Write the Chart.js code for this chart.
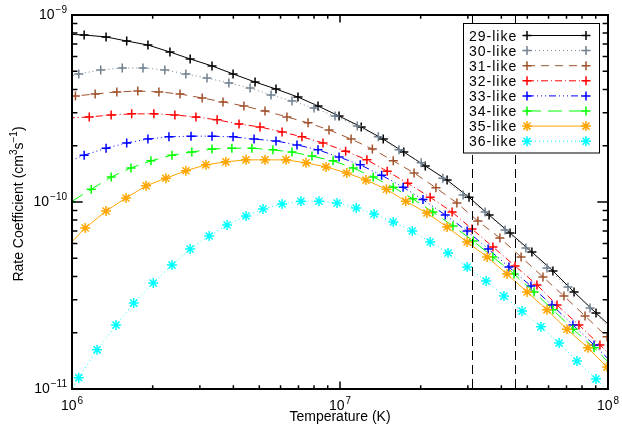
<!DOCTYPE html>
<html>
<head>
<meta charset="utf-8">
<title>Rate coefficients vs temperature</title>
<script src="https://cdn.jsdelivr.net/npm/chart.js"></script>
<style>
  html, body { margin: 0; padding: 0; background: #fff; }
  canvas { display: block; }
</style>
</head>
<body>
<canvas id="chart" width="622" height="433"></canvas>
<script>
// --- Data (T in K, rate coefficient in cm^3 s^-1) ---
// first and last points of each series sit just outside the axes, the curves run into the frame
const temps29 = [9.23e5, 1.11e6, 1.34e6, 1.60e6, 1.92e6, 2.32e6, 2.76e6, 3.33e6, 3.99e6, 4.82e6, 5.77e6, 6.97e6, 8.28e6, 9.92e6, 1.20e7, 1.45e7, 1.73e7, 2.08e7, 2.51e7, 3.03e7, 3.60e7, 4.31e7, 5.20e7, 6.23e7, 7.47e7, 9.02e7, 1.084e8];
const rate29  = [7.91e-10, 7.82e-10, 7.63e-10, 7.26e-10, 6.91e-10, 6.34e-10, 5.82e-10, 5.34e-10, 4.84e-10, 4.38e-10, 4.02e-10, 3.64e-10, 3.26e-10, 2.88e-10, 2.52e-10, 2.17e-10, 1.85e-10, 1.56e-10, 1.31e-10, 1.06e-10, 8.52e-11, 6.83e-11, 5.40e-11, 4.28e-11, 3.30e-11, 2.55e-11, 2.00e-11];

const temps30 = [8.84e5, 1.06e6, 1.28e6, 1.54e6, 1.84e6, 2.22e6, 2.66e6, 3.19e6, 3.85e6, 4.62e6, 5.53e6, 6.62e6, 8.00e6, 9.58e6, 1.16e7, 1.39e7, 1.66e7, 2.01e7, 2.42e7, 2.88e7, 3.48e7, 4.13e7, 4.94e7, 5.92e7, 7.09e7, 8.57e7, 1.029e8];
const rate30  = [4.49e-10, 4.84e-10, 5.08e-10, 5.21e-10, 5.21e-10, 5.08e-10, 4.84e-10, 4.60e-10, 4.33e-10, 4.07e-10, 3.73e-10, 3.47e-10, 3.18e-10, 2.88e-10, 2.55e-10, 2.23e-10, 1.90e-10, 1.62e-10, 1.34e-10, 1.09e-10, 8.84e-11, 7.08e-11, 5.68e-11, 4.44e-11, 3.51e-11, 2.71e-11, 2.07e-11];

const temps31 = [8.55e5, 1.03e6, 1.22e6, 1.47e6, 1.76e6, 2.11e6, 2.53e6, 3.06e6, 3.66e6, 4.38e6, 5.25e6, 6.34e6, 7.60e6, 9.10e6, 1.10e7, 1.32e7, 1.58e7, 1.89e7, 2.28e7, 2.73e7, 3.27e7, 3.95e7, 4.74e7, 5.72e7, 6.85e7, 8.21e7, 9.92e7, 1.19e8];
const rate31  = [3.60e-10, 3.69e-10, 3.78e-10, 3.88e-10, 3.92e-10, 3.88e-10, 3.78e-10, 3.60e-10, 3.43e-10, 3.26e-10, 3.07e-10, 2.85e-10, 2.65e-10, 2.43e-10, 2.17e-10, 1.92e-10, 1.66e-10, 1.43e-10, 1.19e-10, 9.88e-11, 7.91e-11, 6.42e-11, 5.08e-11, 3.97e-11, 3.14e-11, 2.46e-11, 1.90e-11, 1.47e-11];

const temps32 = [9.64e5, 1.16e6, 1.40e6, 1.67e6, 2.02e6, 2.42e6, 2.90e6, 3.48e6, 4.20e6, 5.03e6, 6.08e6, 7.21e6, 8.64e6, 1.05e7, 1.26e7, 1.50e7, 1.79e7, 2.17e7, 2.62e7, 3.11e7, 3.72e7, 4.50e7, 5.43e7, 6.45e7, 7.79e7, 9.33e7, 1.12e8];
const rate32  = [2.81e-10, 2.85e-10, 2.92e-10, 2.96e-10, 2.96e-10, 2.92e-10, 2.85e-10, 2.75e-10, 2.61e-10, 2.52e-10, 2.37e-10, 2.23e-10, 2.07e-10, 1.87e-10, 1.68e-10, 1.46e-10, 1.26e-10, 1.06e-10, 8.84e-11, 7.17e-11, 5.75e-11, 4.55e-11, 3.60e-11, 2.81e-11, 2.20e-11, 1.72e-11, 1.34e-11];

const temps33 = [9.23e5, 1.11e6, 1.34e6, 1.60e6, 1.92e6, 2.30e6, 2.78e6, 3.33e6, 3.99e6, 4.78e6, 5.77e6, 6.91e6, 8.28e6, 9.92e6, 1.19e7, 1.43e7, 1.72e7, 2.04e7, 2.47e7, 2.98e7, 3.57e7, 4.27e7, 5.16e7, 6.18e7, 7.40e7, 8.87e7, 1.065e8];
const rate33  = [1.60e-10, 1.78e-10, 1.94e-10, 2.07e-10, 2.17e-10, 2.23e-10, 2.25e-10, 2.25e-10, 2.23e-10, 2.17e-10, 2.12e-10, 2.02e-10, 1.90e-10, 1.74e-10, 1.58e-10, 1.39e-10, 1.20e-10, 1.03e-10, 8.52e-11, 7.00e-11, 5.61e-11, 4.49e-11, 3.55e-11, 2.81e-11, 2.20e-11, 1.72e-11, 1.33e-11];

const temps34 = [9.91e5, 1.18e6, 1.40e6, 1.66e6, 1.97e6, 2.36e6, 2.80e6, 3.33e6, 3.95e6, 4.69e6, 5.62e6, 6.62e6, 7.86e6, 9.42e6, 1.12e7, 1.33e7, 1.58e7, 1.87e7, 2.22e7, 2.64e7, 3.14e7, 3.72e7, 4.46e7, 5.30e7, 6.23e7, 7.40e7, 8.87e7, 1.053e8];
const rate34  = [1.00e-10, 1.17e-10, 1.36e-10, 1.52e-10, 1.66e-10, 1.78e-10, 1.85e-10, 1.92e-10, 1.94e-10, 1.94e-10, 1.90e-10, 1.85e-10, 1.76e-10, 1.66e-10, 1.52e-10, 1.36e-10, 1.20e-10, 1.04e-10, 8.84e-11, 7.44e-11, 6.19e-11, 5.08e-11, 4.12e-11, 3.30e-11, 2.65e-11, 2.09e-11, 1.66e-11, 1.30e-11];

const temps35 = [9.42e5, 1.12e6, 1.34e6, 1.59e6, 1.89e6, 2.24e6, 2.66e6, 3.16e6, 3.75e6, 4.46e6, 5.25e6, 6.29e6, 7.47e6, 8.87e6, 1.06e7, 1.25e7, 1.49e7, 1.76e7, 2.11e7, 2.51e7, 2.98e7, 3.54e7, 4.20e7, 4.99e7, 5.92e7, 7.03e7, 8.42e7, 9.92e7, 1.177e8];
const rate35  = [5.61e-11, 7.26e-11, 8.95e-11, 1.05e-10, 1.22e-10, 1.34e-10, 1.47e-10, 1.58e-10, 1.64e-10, 1.68e-10, 1.68e-10, 1.68e-10, 1.62e-10, 1.54e-10, 1.43e-10, 1.31e-10, 1.17e-10, 1.01e-10, 8.73e-11, 7.35e-11, 6.11e-11, 5.08e-11, 4.12e-11, 3.30e-11, 2.65e-11, 2.09e-11, 1.66e-11, 1.31e-11, 1.04e-11];

const temps36 = [9.06e5, 1.06e6, 1.24e6, 1.46e6, 1.70e6, 2.01e6, 2.36e6, 2.76e6, 3.25e6, 3.79e6, 4.46e6, 5.16e6, 6.08e6, 7.15e6, 8.35e6, 9.75e6, 1.15e7, 1.34e7, 1.58e7, 1.86e7, 2.17e7, 2.53e7, 2.98e7, 3.51e7, 4.09e7, 4.78e7, 5.62e7, 6.57e7, 7.66e7, 9.02e7, 1.057e8];
const rate36  = [7.82e-12, 1.15e-11, 1.62e-11, 2.20e-11, 2.88e-11, 3.69e-11, 4.60e-11, 5.61e-11, 6.58e-11, 7.53e-11, 8.42e-11, 9.17e-11, 9.76e-11, 1.01e-10, 1.01e-10, 9.88e-11, 9.29e-11, 8.63e-11, 7.82e-11, 7.00e-11, 6.11e-11, 5.34e-11, 4.49e-11, 3.78e-11, 3.14e-11, 2.61e-11, 2.15e-11, 1.76e-11, 1.41e-11, 1.13e-11, 9.06e-12];

const seriesLabels = ['29-like', '30-like', '31-like', '32-like', '33-like', '34-like', '35-like', '36-like'];
const seriesColors = ['#000000', '#708090', '#a0522d', '#ff0000', '#0000ff', '#00ff00', '#ffa500', '#00ffff'];
const seriesDash   = [[], [1, 3], [8, 6], [7, 3, 1, 3], [7, 3, 1, 3, 1, 3, 1, 3], [14, 7], [], [1, 3]];
const seriesMarker = ['cross', 'cross', 'cross', 'cross', 'cross', 'cross', 'star', 'star'];

// the two vertical dashed markers (K)
const markerTemps = [3.1e7, 4.5e7];

const temps = [temps29, temps30, temps31, temps32, temps33, temps34, temps35, temps36];
const rates = [rate29, rate30, rate31, rate32, rate33, rate34, rate35, rate36];

const FONT = '"Liberation Sans", Arial, sans-serif';

const datasets = seriesLabels.map((label, i) => ({
    label: label,
    data: temps[i].map((t, j) => ({ x: t, y: rates[i][j] })),
    borderColor: seriesColors[i],
    backgroundColor: seriesColors[i],
    borderWidth: 1,
    borderDash: seriesDash[i],
    pointStyle: seriesMarker[i],
    pointRadius: seriesMarker[i] === 'star' ? 5 : 4.5,
    pointBorderWidth: 1.5,
    pointBorderColor: seriesColors[i],
    tension: 0,
    fill: false,
    clip: 0,
    order: seriesLabels.length - i   // later series on top, like IDL oplot
}));

// marker glyph for the legend (IDL psym 1 / psym 2)
function drawMarker(ctx, style, x, y, r) {
    ctx.beginPath();
    ctx.moveTo(x - r, y); ctx.lineTo(x + r, y);
    ctx.moveTo(x, y - r); ctx.lineTo(x, y + r);
    if (style === 'star') {
        const d = r * Math.SQRT1_2;
        ctx.moveTo(x - d, y - d); ctx.lineTo(x + d, y + d);
        ctx.moveTo(x - d, y + d); ctx.lineTo(x + d, y - d);
    }
    ctx.stroke();
}

// "10" with a raised exponent
function drawPower(ctx, exp, x, y, align) {
    const base = '10';
    const sup = exp < 0 ? '\u2212' + (-exp) : String(exp);
    ctx.font = '14px ' + FONT;
    const wb = ctx.measureText(base).width;
    ctx.font = '10px ' + FONT;
    const ws = ctx.measureText(sup).width;
    const x0 = align === 'right' ? x - wb - ws - 1 : x - (wb + ws + 1) / 2;
    ctx.textAlign = 'left';
    ctx.textBaseline = 'alphabetic';
    ctx.font = '14px ' + FONT;
    ctx.fillText(base, x0, y);
    ctx.font = '10px ' + FONT;
    ctx.fillText(sup, x0 + wb + 1, y - 6);
}

// text made of normal / superscript pieces, centred on 0
function drawRich(ctx, parts, cx, y) {
    const widths = parts.map(p => {
        ctx.font = (p.sup ? '10px ' : '14px ') + FONT;
        return ctx.measureText(p.t).width;
    });
    let x = cx - widths.reduce((a, b) => a + b, 0) / 2;
    ctx.textAlign = 'left';
    ctx.textBaseline = 'alphabetic';
    parts.forEach((p, i) => {
        ctx.font = (p.sup ? '10px ' : '14px ') + FONT;
        ctx.fillText(p.t, x, p.sup ? y - 6 : y);
        x += widths[i];
    });
}

function logTicks(min, max) {
    const out = [];
    for (let e = Math.floor(Math.log10(min)); e <= Math.ceil(Math.log10(max)); e++) {
        for (let m = 1; m <= 9; m++) {
            const v = m * Math.pow(10, e);
            if (v >= min * 0.999 && v <= max * 1.001) out.push({ v: v, major: m === 1, e: e });
        }
    }
    return out;
}

// --- IDL style frame: inward ticks on all sides, power labels, dashed markers, boxed legend ---
const idlFrame = {
    id: 'idlFrame',
    afterDraw(chart) {
        const ctx = chart.ctx;
        const a = chart.chartArea;
        const xs = chart.scales.x, ys = chart.scales.y;
        ctx.save();

        // dashed vertical lines
        ctx.strokeStyle = '#000';
        ctx.lineWidth = 1;
        ctx.setLineDash([9, 5]);
        markerTemps.forEach(t => {
            const px = Math.round(xs.getPixelForValue(t)) + 0.5;
            ctx.beginPath();
            ctx.moveTo(px, a.top);
            ctx.lineTo(px, a.bottom);
            ctx.stroke();
        });
        ctx.setLineDash([]);

        // legend box
        const bx = 463.5, by = 23.5, bw = 136, bh = 129.5;
        ctx.fillStyle = '#fff';
        ctx.fillRect(bx, by, bw, bh);
        ctx.strokeStyle = '#000';
        ctx.lineWidth = 1;
        ctx.strokeRect(bx, by, bw, bh);
        chart.data.datasets.forEach((ds, i) => {
            const ry = 35.5 + i * 15.1;
            ctx.fillStyle = '#000';
            ctx.font = '14px ' + FONT;
            ctx.textAlign = 'left';
            ctx.textBaseline = 'alphabetic';
            if ('letterSpacing' in ctx) ctx.letterSpacing = '1px';
            ctx.fillText(ds.label, 469, ry + 5);
            if ('letterSpacing' in ctx) ctx.letterSpacing = '0px';
            ctx.strokeStyle = ds.borderColor;
            ctx.lineWidth = 1;
            ctx.setLineDash(ds.borderDash);
            ctx.beginPath();
            ctx.moveTo(527, ry);
            ctx.lineTo(586, ry);
            ctx.stroke();
            ctx.setLineDash([]);
            ctx.lineWidth = 1.5;
            drawMarker(ctx, ds.pointStyle, 527, ry, ds.pointRadius);
            drawMarker(ctx, ds.pointStyle, 586, ry, ds.pointRadius);
        });

        // frame
        ctx.strokeStyle = '#000';
        ctx.lineWidth = 2;
        ctx.strokeRect(a.left, a.top, a.right - a.left, a.bottom - a.top);

        // ticks
        ctx.lineWidth = 1.5;
        ctx.beginPath();
        logTicks(xs.min, xs.max).forEach(tk => {
            const px = xs.getPixelForValue(tk.v);
            const len = tk.major ? 7.5 : 3.7;
            ctx.moveTo(px, a.bottom); ctx.lineTo(px, a.bottom - len);
            ctx.moveTo(px, a.top); ctx.lineTo(px, a.top + len);
        });
        logTicks(ys.min, ys.max).forEach(tk => {
            const py = ys.getPixelForValue(tk.v);
            const len = tk.major ? 10.7 : 5.4;
            ctx.moveTo(a.left, py); ctx.lineTo(a.left + len, py);
            ctx.moveTo(a.right, py); ctx.lineTo(a.right - len, py);
        });
        ctx.stroke();

        // tick labels
        ctx.fillStyle = '#000';
        logTicks(xs.min, xs.max).filter(tk => tk.major).forEach(tk => {
            drawPower(ctx, tk.e, xs.getPixelForValue(tk.v), a.bottom + 21, 'center');
        });
        logTicks(ys.min, ys.max).filter(tk => tk.major).forEach(tk => {
            drawPower(ctx, tk.e, a.left - 5, ys.getPixelForValue(tk.v) + 4, 'right');
        });

        // axis titles
        drawRich(ctx, [{ t: 'Temperature (K)' }], (a.left + a.right) / 2, 421);
        ctx.save();
        ctx.translate(23, (a.top + a.bottom) / 2 + 2);
        ctx.rotate(-Math.PI / 2);
        drawRich(ctx, [
            { t: 'Rate Coefficient (cm' }, { t: '3', sup: true },
            { t: 's' }, { t: '\u22121', sup: true }, { t: ')' }
        ], 0, 0);
        ctx.restore();

        ctx.restore();
    }
};

new Chart(document.getElementById('chart'), {
    type: 'line',
    data: { datasets: datasets },
    options: {
        responsive: false,
        animation: false,
        layout: { padding: { left: 0, right: 14, top: 15, bottom: 0 } },
        plugins: {
            legend: { display: false },
            tooltip: { enabled: false },
            title: { display: false }
        },
        scales: {
            x: {
                type: 'logarithmic',
                min: 1e6,
                max: 1e8,
                grid: { display: false },
                border: { display: false },
                ticks: { display: false },
                afterFit: s => { s.height = 44; }
            },
            y: {
                type: 'logarithmic',
                min: 1e-11,
                max: 1e-9,
                grid: { display: false },
                border: { display: false },
                ticks: { display: false },
                afterFit: s => { s.width = 72; }
            }
        }
    },
    plugins: [idlFrame]
});
</script>
</body>
</html>
